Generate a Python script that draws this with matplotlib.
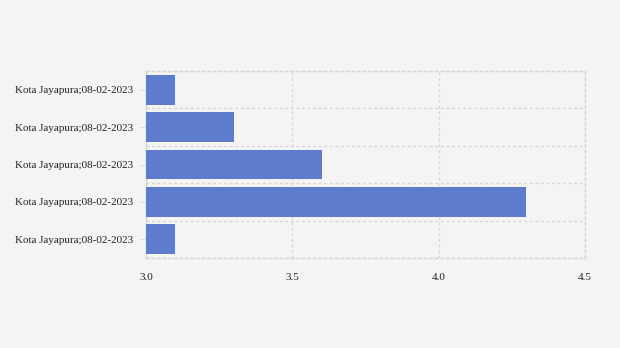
import matplotlib
matplotlib.use("Agg")
import matplotlib.pyplot as plt
import numpy as np

categories = ["Kota Jayapura;08-02-2023"] * 5
values = [3.1, 3.3, 3.6, 4.3, 3.1]
xticks = [3.0, 3.5, 4.0, 4.5]
xtick_labels = ["3.0", "3.5", "4.0", "4.5"]

plt.rcParams['font.family'] = ['Liberation Serif', 'DejaVu Serif']

fig = plt.figure(figsize=(6.2, 3.48), dpi=100, facecolor="#f4f4f4")
ax = fig.add_axes([146/620, 1-258/348, (585-146)/620, (258-71)/348])
ax.set_facecolor("#f4f4f4")

y = np.arange(len(values))
ax.barh(y, values, height=0.8, color="#5f7bcc", zorder=3)
ax.set_xlim(3.0, 4.5)
ax.set_ylim(len(values) - 0.5, -0.5)

ax.set_yticks(y)
ax.set_yticklabels(categories, fontsize=8, color="#222222")
ax.set_yticks(np.arange(len(values) + 1) - 0.5, minor=True)
ax.set_xticks(xticks)
ax.set_xticklabels(xtick_labels, fontsize=8, color="#222222")

ax.tick_params(axis="y", which="major", length=5, color="#dddddd", pad=4.5)
ax.tick_params(axis="y", which="minor", length=0)
ax.tick_params(axis="x", length=0, pad=11)

gridstyle = dict(color="#d6d6d6", linestyle=(0, (2, 2)), linewidth=1)
ax.grid(axis="y", which="minor", zorder=0, **gridstyle)
ax.grid(axis="x", which="major", zorder=0, **gridstyle)
ax.grid(axis="y", which="major", visible=False)

for s in ["top", "right", "bottom"]:
    ax.spines[s].set_color("#d6d6d6")
    ax.spines[s].set_linestyle((0, (2, 2)))
    ax.spines[s].set_linewidth(1)
ax.spines["left"].set_color("#d6d6d6")
ax.spines["left"].set_linewidth(1)

fig.savefig("out.png", dpi=100, facecolor=fig.get_facecolor())
